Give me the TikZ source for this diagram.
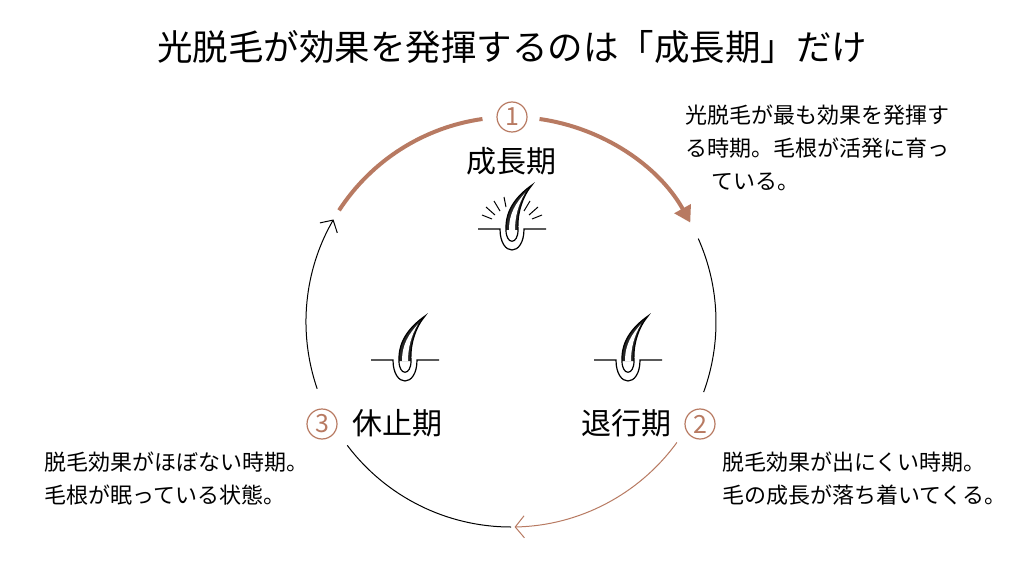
\documentclass[tikz,border=0pt]{standalone}
\usepackage{fontspec}
\setmainfont{Noto Sans CJK JP}
\usetikzlibrary{calc,arrows.meta}
\definecolor{br}{HTML}{B87A62}
\tikzset{
  desc/.style={anchor=north west,font=\fontsize{22}{33}\selectfont,align=left,inner sep=0pt},
  phase/.style={font=\fontsize{30}{32}\selectfont,inner sep=0pt},
  num/.style={circle,draw=br,text=br,line width=1.2pt,minimum size=30pt,inner sep=0pt,font=\fontsize{25}{25}\selectfont},
  thin/.style={line width=1pt,black},
  hairpic/.pic={
    \draw[line width=1.2pt] (-34,0) -- (-12,0) .. controls (-12,-28) and (12,-28) .. (12,0) -- (34,0);
    \draw[line width=1.2pt] (-6,-1) .. controls (-6,-16) and (6,-16) .. (6,-1);
    \draw[line width=1.2pt,fill=black!85] (-6,-1) .. controls (-7,20) and (6,34) .. (20,44) .. controls (10,32) and (5,15) .. (6,-1);
    \fill[white] (-3,-1) .. controls (-3,16) and (4,26) .. (13,36) .. controls (6,24) and (3,12) .. (3,-1) -- cycle;
  }
}
\begin{document}
\begin{tikzpicture}[x=1pt,y=1pt]
\useasboundingbox (0,0) rectangle (1024,571);
\fill[white] (0,0) rectangle (1024,571);
\coordinate (c) at (511,249);
\node[font=\fontsize{35.5}{38}\selectfont] (title) at (512,524) {光脱毛が効果を発揮するのは「成長期」だけ};
% arcs
\draw[br,line width=4pt] ($(c)+(147:205)$) arc[start angle=147,end angle=98,radius=205];
\draw[br,line width=4pt,-{Triangle[length=16pt,width=18pt]}] ($(c)+(82:205)$) arc[start angle=82,end angle=29,radius=205];
\draw[thin] ($(c)+(24:205)$) arc[start angle=24,end angle=-20,radius=205];
\draw[br,line width=1pt,-{Straight Barb[length=9pt,width=22pt]}] ($(c)+(-36:205)$) arc[start angle=-36,end angle=-89,radius=205];
\draw[thin] ($(c)+(-90:205)$) arc[start angle=-90,end angle=-143,radius=205];
\draw[thin,-{Straight Barb[length=9pt,width=20pt]}] ($(c)+(199:205)$) arc[start angle=199,end angle=150,radius=205];
% numbers
\node[num] (n1) at (512,454) {1};
\node[num] (n2) at (700,147) {2};
\node[num] (n3) at (322,147) {3};
% labels
\node[phase] (p1) at (511,410) {成長期};
\node[phase] (p2) at (626,148) {退行期};
\node[phase] (p3) at (397,148) {休止期};
% hair icons
\pic at (512,342) {hairpic};
\pic at (405,211) {hairpic};
\pic at (628,211) {hairpic};
\begin{scope}[line width=1pt]
\draw (494,370) -- (500,360); \draw (486,364) -- (495,356); \draw (482,356) -- (492,352);
\draw (504,374) -- (506,364);
\draw (530,370) -- (524,360); \draw (538,364) -- (529,356); \draw (542,356) -- (532,352);
\end{scope}
% descriptions
\node[desc] (d1) at (685,466) {光脱毛が最も効果を発揮す\\る時期。毛根が活発に育っ\\\hspace{26pt}ている。};
\node[desc] (d2) at (722,119) {脱毛効果が出にくい時期。\\毛の成長が落ち着いてくる。};
\node[desc] (d3) at (44,119) {脱毛効果がほぼない時期。\\毛根が眠っている状態。};
\end{tikzpicture}
\end{document}
